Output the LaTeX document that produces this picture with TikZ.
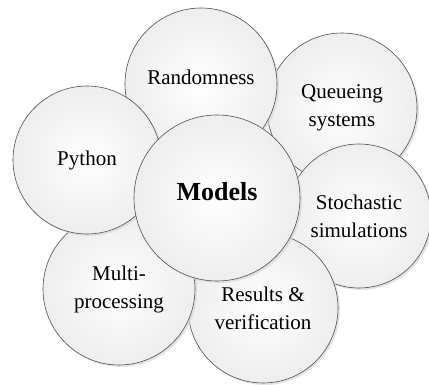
\documentclass[tikz,border=0pt]{standalone}
\usepackage{fontspec}
\setmainfont{Liberation Serif}
\usepackage{tikz}
\usetikzlibrary{shadows}
\definecolor{rimgray}{RGB}{80,80,80}
\definecolor{fillgray}{RGB}{238,238,238}

\begin{document}
\begin{tikzpicture}[
  x=1pt, y=-1pt,
  font=\fontsize{21}{28}\selectfont,
  bubble/.style={circle, draw=rimgray, line width=0.6pt, shading=radial, inner color=white, outer color=fillgray, align=center, inner sep=0pt,
    drop shadow={shadow xshift=2pt, shadow yshift=-2pt, fill=black!15, opacity=0.7}},
  hub/.style={bubble, font=\fontsize{26}{30}\selectfont\bfseries}
]
\useasboundingbox (0,0) rectangle (429,385);
\node[bubble, minimum size=150pt] (queue) at (342,108) {Queueing\\systems};
\node[bubble, minimum size=152pt] (rand) at (201,84) {Randomness\\[-14pt]};
\node[bubble, minimum size=144pt] (stoch) at (359,216) {Stochastic\\simulations};
\node[bubble, minimum size=150pt] (res) at (263,308) {Results \&\\verification};
\node[bubble, minimum size=152pt] (multi) at (119,289) {Multi-\\processing};
\node[bubble, minimum size=148pt] (py) at (87,160) {Python};
\node[hub, minimum size=166pt] (models) at (217,198) {Models\\[-16pt]};
\end{tikzpicture}
\end{document}
